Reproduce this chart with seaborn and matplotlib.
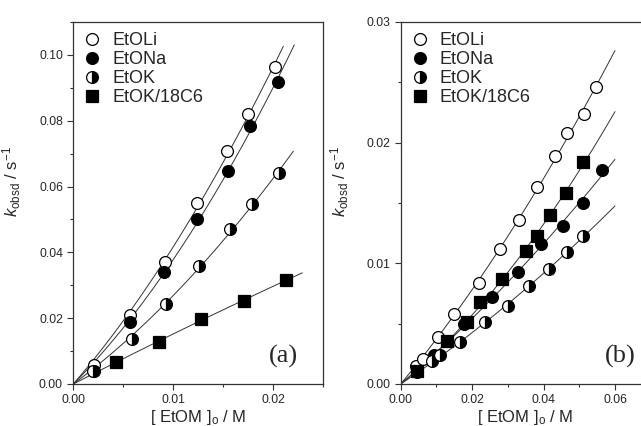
import numpy as np
import pandas as pd
import matplotlib
matplotlib.use('Agg')
from matplotlib import pyplot as plt
from matplotlib.ticker import MultipleLocator, FormatStrFormatter
import seaborn as sns

sns.set_style('ticks')
plt.rcParams['font.family'] = ['Liberation Sans', 'DejaVu Sans']
plt.rcParams['mathtext.fontset'] = 'custom'
plt.rcParams['mathtext.rm'] = 'Liberation Sans'
plt.rcParams['mathtext.it'] = 'Liberation Sans:italic'

labels = ['EtOLi', 'EtONa', 'EtOK', 'EtOK/18C6']

# panel (a)
a_li_x = [0.0021, 0.0057, 0.0092, 0.0124, 0.0154, 0.0175, 0.0202]
a_li_y = [0.0057, 0.0210, 0.0372, 0.0551, 0.0708, 0.0821, 0.0963]
a_na_x = [0.0021, 0.0057, 0.0091, 0.0124, 0.0155, 0.0177, 0.0205]
a_na_y = [0.0041, 0.0187, 0.0341, 0.0502, 0.0647, 0.0783, 0.0919]
a_k_x = [0.0020, 0.0059, 0.0093, 0.0126, 0.0157, 0.0179, 0.0206]
a_k_y = [0.0040, 0.0137, 0.0244, 0.0360, 0.0471, 0.0548, 0.0640]
a_18_x = [0.0043, 0.0086, 0.0128, 0.0171, 0.0213]
a_18_y = [0.0066, 0.0129, 0.0198, 0.0253, 0.0316]
a_fit_end = [0.0210, 0.0221, 0.0220, 0.0229]

# panel (b)
b_li_x = [0.0042, 0.0063, 0.0105, 0.0150, 0.0218, 0.0278, 0.0332, 0.0383, 0.0431, 0.0466, 0.0514, 0.0546]
b_li_y = [0.0015, 0.0021, 0.0039, 0.0058, 0.0084, 0.0112, 0.0136, 0.0163, 0.0189, 0.0208, 0.0224, 0.0246]
b_na_x = [0.0045, 0.0092, 0.0178, 0.0256, 0.0328, 0.0394, 0.0455, 0.0510, 0.0563]
b_na_y = [0.0010, 0.0024, 0.0050, 0.0072, 0.0093, 0.0116, 0.0131, 0.0150, 0.0177]
b_k_x = [0.0088, 0.0111, 0.0165, 0.0235, 0.0300, 0.0360, 0.0414, 0.0466, 0.0511]
b_k_y = [0.0019, 0.0024, 0.0035, 0.0051, 0.0065, 0.0081, 0.0095, 0.0109, 0.0123]
b_18_x = [0.0046, 0.0129, 0.0186, 0.0221, 0.0283, 0.0350, 0.0381, 0.0419, 0.0462, 0.0510]
b_18_y = [0.0011, 0.0036, 0.0051, 0.0068, 0.0087, 0.0110, 0.0123, 0.0140, 0.0158, 0.0184]
b_fit_end = [0.060, 0.060, 0.060, 0.060]

marker_styles = [
    dict(marker='o', markerfacecolor='white', markeredgecolor='black'),
    dict(marker='o', markerfacecolor='black', markeredgecolor='black'),
    dict(marker='o', markerfacecolor='black', markeredgecolor='black',
         fillstyle='right', markerfacecoloralt='white'),
    dict(marker='s', markerfacecolor='black', markeredgecolor='black'),
]


def fit_curve(x, y, x_end):
    # quadratic through the origin
    x = np.asarray(x)
    y = np.asarray(y)
    A = np.column_stack([x, x**2])
    coef = np.linalg.lstsq(A, y, rcond=None)[0]
    xs = np.linspace(0, x_end, 60)
    return xs, coef[0]*xs + coef[1]*xs**2


def draw_panel(ax, series, fit_end, tag):
    for (x, y), end in zip(series, fit_end):
        fx, fy = fit_curve(x, y, end)
        sns.lineplot(x=fx, y=fy, ax=ax, color='#333333', linewidth=0.7,
                     estimator=None, sort=False, errorbar=None)
    for (x, y), lab, ms in zip(series, labels, marker_styles):
        sns.lineplot(x=x, y=y, ax=ax, color='black', linestyle='none',
                     markersize=8.5, markeredgewidth=0.9, label=lab,
                     estimator=None, sort=False, errorbar=None, **ms)
    ax.legend(loc='upper left', frameon=False, fontsize=13,
              labelspacing=0.12, handlelength=1.0, handletextpad=0.6,
              borderaxespad=0.35, borderpad=0.2)
    ax.text(0.9, 0.06, tag, transform=ax.transAxes, ha='right', va='baseline',
            fontsize=19, family=['Liberation Serif', 'DejaVu Serif'])
    ax.set_xlabel(r'[ EtOM ]$_{\rm o}$ / M', fontsize=12, labelpad=1)
    ax.set_ylabel(r'$k_{\rm obsd}$ / s$^{-1}$', fontsize=12)
    ax.yaxis.set_label_coords(-0.2, 0.56)
    ax.tick_params(which='both', direction='out', top=False, right=False,
                   labelsize=8.7, width=0.8, color='#333333')
    ax.tick_params(which='major', length=4)
    ax.tick_params(which='minor', length=2.5)
    ax.xaxis.set_major_formatter(FormatStrFormatter('%.2f'))
    ax.yaxis.set_major_formatter(FormatStrFormatter('%.2f'))
    for s in ax.spines.values():
        s.set_visible(True)
        s.set_linewidth(0.9)
        s.set_color('#333333')


fig = plt.figure(figsize=(6.41, 4.26), dpi=100)
ax1 = fig.add_axes([0.1144, 0.0986, 0.3900, 0.8498])
ax2 = fig.add_axes([0.6251, 0.0986, 0.3900, 0.8498])

draw_panel(ax1, [(a_li_x, a_li_y), (a_na_x, a_na_y), (a_k_x, a_k_y), (a_18_x, a_18_y)],
           a_fit_end, '(a)')
ax1.set_xlim(0, 0.025)
ax1.set_ylim(0, 0.11)
ax1.xaxis.set_major_locator(MultipleLocator(0.01))
ax1.xaxis.set_minor_locator(MultipleLocator(0.005))
ax1.yaxis.set_major_locator(MultipleLocator(0.02))
ax1.yaxis.set_minor_locator(MultipleLocator(0.01))

draw_panel(ax2, [(b_li_x, b_li_y), (b_na_x, b_na_y), (b_k_x, b_k_y), (b_18_x, b_18_y)],
           b_fit_end, '(b)')
ax2.texts[0].set_x(0.94)
ax2.set_xlim(0, 0.07)
ax2.set_ylim(0, 0.03)
ax2.xaxis.set_major_locator(MultipleLocator(0.02))
ax2.xaxis.set_minor_locator(MultipleLocator(0.01))
ax2.yaxis.set_major_locator(MultipleLocator(0.01))
ax2.yaxis.set_minor_locator(MultipleLocator(0.005))

fig.savefig('out.png', dpi=100)
